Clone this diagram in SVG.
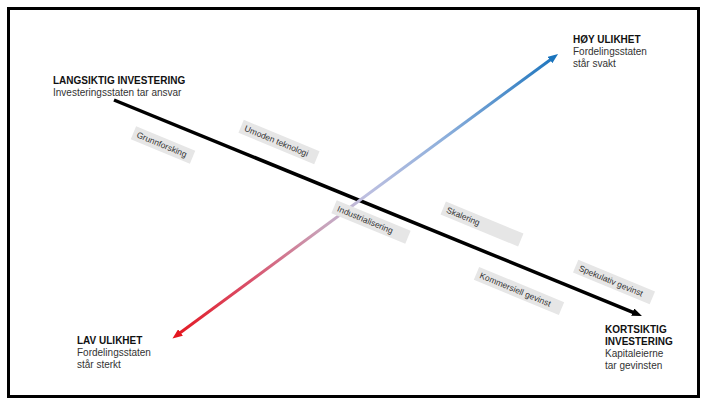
<svg xmlns="http://www.w3.org/2000/svg" width="708" height="405" viewBox="0 0 708 405">
<style>
.h{font-family:"Liberation Sans",Arial,sans-serif;font-size:10px;font-weight:bold;fill:#111}
.b{font-family:"Liberation Sans",Arial,sans-serif;font-size:10px;fill:#333}
.lb rect{fill:#e6e6e6}
.lb text{font-family:"Liberation Sans",Arial,sans-serif;font-size:8.5px;fill:#333}
</style>
<defs>
<linearGradient id="g" gradientUnits="userSpaceOnUse" x1="172.5" y1="338.5" x2="558" y2="54">
<stop offset="0" stop-color="#e4161f"/>
<stop offset="0.2" stop-color="#d9506a"/>
<stop offset="0.38" stop-color="#c99fb6"/>
<stop offset="0.5" stop-color="#bdbfe0"/>
<stop offset="0.7" stop-color="#8fb0dc"/>
<stop offset="1" stop-color="#1b74bd"/>
</linearGradient>
<marker id="ak" viewBox="0 0 10 8" refX="3" refY="4" markerWidth="10" markerHeight="8" markerUnits="userSpaceOnUse" orient="auto"><path d="M0,0 L10,4 L0,8 z" fill="#000"/></marker>
<marker id="ab" viewBox="0 0 10 8" refX="3" refY="4" markerWidth="10" markerHeight="8" markerUnits="userSpaceOnUse" orient="auto"><path d="M0,0 L10,4 L0,8 z" fill="#1b74bd"/></marker>
<marker id="ar" viewBox="0 0 10 8" refX="3" refY="4" markerWidth="10" markerHeight="8" markerUnits="userSpaceOnUse" orient="auto-start-reverse"><path d="M0,0 L10,4 L0,8 z" fill="#e4161f"/></marker>
</defs>
<rect x="8.5" y="8.5" width="690" height="388" fill="#fff" stroke="#000" stroke-width="3"/>
<g id="connectors">
<line x1="114" y1="100" x2="635.5" y2="313.3" stroke="#000" stroke-width="3.5" marker-end="url(#ak)"/>
<line x1="178.1" y1="334.3" x2="552.4" y2="58.2" stroke="url(#g)" stroke-width="3" marker-start="url(#ar)" marker-end="url(#ab)"/>
</g>
<g id="langsiktig"><text class="h" x="53" y="84">LANGSIKTIG INVESTERING</text><text class="b" x="53" y="96">Investeringsstaten tar ansvar</text></g>
<g id="hoy"><text class="h" x="573" y="43">HØY ULIKHET</text><text class="b" x="573" y="55">Fordelingsstaten</text><text class="b" x="573" y="67">står svakt</text></g>
<g id="lav"><text class="h" x="77" y="344">LAV ULIKHET</text><text class="b" x="77" y="356">Fordelingsstaten</text><text class="b" x="77" y="368">står sterkt</text></g>
<g id="kortsiktig"><text class="h" x="605" y="333">KORTSIKTIG</text><text class="h" x="605" y="345">INVESTERING</text><text class="b" x="605" y="357">Kapitaleierne</text><text class="b" x="605" y="369">tar gevinsten</text></g>
<g id="grunnforsking" class="lb" transform="translate(163,145) rotate(22.5)"><rect x="-32" y="-7" width="64" height="14"/><text x="-28" y="3">Grunnforsking</text></g>
<g id="umoden" class="lb" transform="translate(279,142) rotate(22.5)"><rect x="-41" y="-7" width="82" height="14"/><text x="-37" y="3">Umoden teknologi</text></g>
<g id="industrialisering" class="lb" transform="translate(371,222) rotate(22.5)"><rect x="-40" y="-7" width="80" height="14"/><text x="-36" y="3">Industrialisering</text></g>
<g id="skalering" class="lb" transform="translate(482,224) rotate(22.5)"><rect x="-42" y="-7" width="84" height="14"/><text x="-38" y="3">Skalering</text></g>
<g id="kommersiell" class="lb" transform="translate(519,291) rotate(22.5)"><rect x="-46" y="-7" width="92" height="14"/><text x="-42" y="3">Kommersiell gevinst</text></g>
<g id="spekulativ" class="lb" transform="translate(614,282) rotate(22.5)"><rect x="-41.5" y="-7" width="83" height="14"/><text x="-37.5" y="3">Spekulativ gevinst</text></g>
</svg>
